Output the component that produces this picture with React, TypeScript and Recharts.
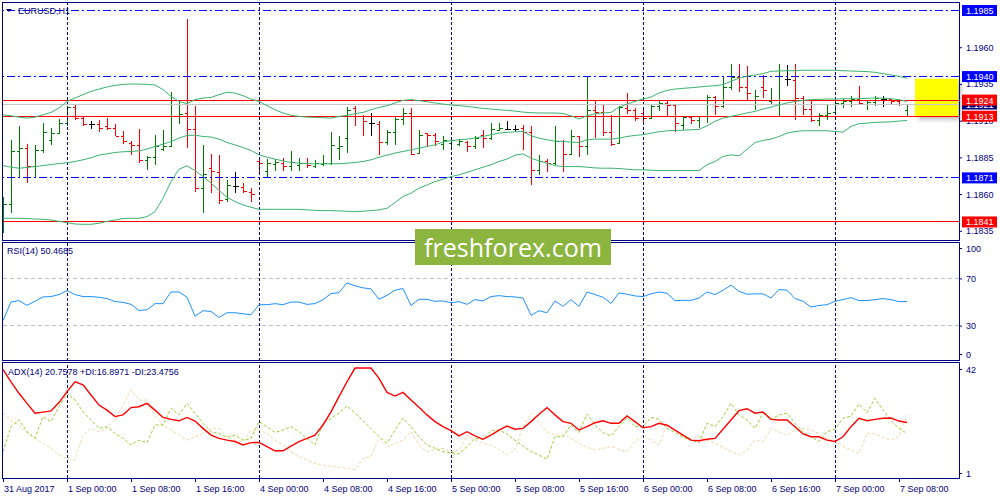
import { ComposedChart, Bar, Line, XAxis, YAxis, ReferenceLine, ReferenceArea } from 'recharts';

// EURUSD H1, 31 Aug 16:00 .. 7 Sep 09:00 (bar index 0..113)
const OPEN = [
  1.18424, 1.18533, 1.1889, 1.18917, 1.18794, 1.18897, 1.1897, 1.19015, 1.19083, 1.19193,
  1.19117, 1.19079, 1.19079, 1.19065, 1.19049, 1.18997, 1.18947, 1.18931, 1.18833, 1.18851,
  1.18906, 1.18924, 1.19133, 1.19152, 1.19042, 1.1864, 1.18776, 1.18753, 1.18565, 1.18656,
  1.18647, 1.18617, 1.18826, 1.1876, 1.18806, 1.1881, 1.18788, 1.18799, 1.1881, 1.18794,
  1.18806, 1.1881, 1.18913, 1.18981, 1.19186, 1.19129, 1.19083, 1.19079, 1.18954, 1.1902,
  1.19111, 1.19152, 1.18879, 1.19015, 1.19004, 1.18942, 1.18947, 1.18942, 1.18952, 1.18924,
  1.19004, 1.18981, 1.19038, 1.19042, 1.19042, 1.19049, 1.1902, 1.18765, 1.18822, 1.1881,
  1.18958, 1.18874, 1.18992, 1.18929, 1.1917, 1.19156, 1.1902, 1.18947, 1.19186, 1.1917,
  1.19152, 1.19117, 1.19202, 1.1922, 1.19209, 1.19072, 1.19124, 1.19106, 1.19129, 1.19261,
  1.19202, 1.19329, 1.19397, 1.19329, 1.19243, 1.19329, 1.19231, 1.19243, 1.19384, 1.19379,
  1.19254, 1.19179, 1.19106, 1.1914, 1.19156, 1.1922, 1.19231, 1.19247, 1.19215, 1.19224,
  1.19247, 1.19247, 1.19231, 1.19174,
];
const HIGH = [
  1.18583, 1.18965, 1.19065, 1.18942, 1.18936, 1.19083, 1.19049, 1.19113, 1.19202, 1.19215,
  1.19129, 1.19095, 1.19102, 1.19117, 1.19079, 1.19027, 1.18958, 1.19042, 1.18856, 1.19004,
  1.19038, 1.19293, 1.19227, 1.19789, 1.19197, 1.18936, 1.18874, 1.18867, 1.18697, 1.18747,
  1.18678, 1.1864, 1.18838, 1.18838, 1.18838, 1.18845, 1.1889, 1.18845, 1.18845, 1.18833,
  1.18867, 1.19024, 1.18992, 1.19193, 1.19202, 1.1914, 1.19152, 1.19095, 1.19038, 1.19129,
  1.19186, 1.19186, 1.19038, 1.19015, 1.19015, 1.18997, 1.1897, 1.18974, 1.18958, 1.18997,
  1.19033, 1.19083, 1.19083, 1.19095, 1.19072, 1.19072, 1.19065, 1.18867, 1.18838, 1.19061,
  1.18965, 1.19038, 1.18997, 1.19397, 1.19238, 1.19215, 1.1914, 1.19202, 1.19288, 1.19186,
  1.19174, 1.19209, 1.19231, 1.19231, 1.19215, 1.19129, 1.19129, 1.19133, 1.19277, 1.19265,
  1.19402, 1.19488, 1.19488, 1.1947, 1.19311, 1.19413, 1.19322, 1.19488, 1.19481, 1.19488,
  1.1927, 1.19231, 1.19152, 1.19209, 1.19231, 1.19247, 1.1927, 1.19338, 1.19231, 1.19265,
  1.19265, 1.19247, 1.19243, 1.19215,
];
const LOW = [
  1.18337, 1.18469, 1.18708, 1.18678, 1.18708, 1.18879, 1.18931, 1.19008, 1.19061, 1.19106,
  1.19061, 1.19042, 1.1902, 1.19033, 1.18992, 1.18942, 1.18863, 1.1881, 1.18765, 1.18799,
  1.18895, 1.1892, 1.19079, 1.18917, 1.18617, 1.18469, 1.1861, 1.18531, 1.18549, 1.1861,
  1.1861, 1.18549, 1.18747, 1.18719, 1.1876, 1.1876, 1.1876, 1.1876, 1.18776, 1.18776,
  1.18792, 1.18799, 1.18829, 1.18879, 1.19061, 1.18992, 1.18997, 1.18867, 1.18936, 1.18931,
  1.19072, 1.18867, 1.18874, 1.1892, 1.18924, 1.18901, 1.18913, 1.18929, 1.18883, 1.18908,
  1.18913, 1.1897, 1.19027, 1.19038, 1.1902, 1.18897, 1.18663, 1.18731, 1.18747, 1.18799,
  1.18747, 1.18867, 1.18851, 1.18867, 1.18981, 1.18992, 1.18929, 1.18942, 1.19147, 1.19095,
  1.19079, 1.19111, 1.19163, 1.19133, 1.1902, 1.19038, 1.19079, 1.19049, 1.19083, 1.1914,
  1.19186, 1.19311, 1.19293, 1.19231, 1.19174, 1.19254, 1.19215, 1.19124, 1.19334, 1.19102,
  1.1914, 1.19088, 1.19061, 1.19106, 1.19152, 1.19186, 1.19193, 1.19215, 1.1917, 1.19197,
  1.19193, 1.19209, 1.19202, 1.19124,
];
const CLOSE = [
  1.18533, 1.1889, 1.18917, 1.18794, 1.18897, 1.1902, 1.19015, 1.19083, 1.19193, 1.19117,
  1.19079, 1.19079, 1.19049, 1.19049, 1.18997, 1.18958, 1.18931, 1.18833, 1.18851, 1.18929,
  1.18924, 1.19133, 1.19145, 1.19042, 1.1864, 1.18735, 1.1876, 1.1856, 1.18663, 1.18656,
  1.18624, 1.18599, 1.1881, 1.1881, 1.18815, 1.18788, 1.18815, 1.1881, 1.18799, 1.1881,
  1.1881, 1.18936, 1.18929, 1.19174, 1.19133, 1.19095, 1.19083, 1.18954, 1.1902, 1.19111,
  1.19152, 1.18874, 1.19004, 1.19004, 1.18958, 1.18965, 1.18965, 1.18958, 1.18924, 1.18981,
  1.18981, 1.19042, 1.19049, 1.19042, 1.19042, 1.1902, 1.18765, 1.18822, 1.1881, 1.18958,
  1.18874, 1.18992, 1.18929, 1.1917, 1.19156, 1.1902, 1.18942, 1.19193, 1.1917, 1.19117,
  1.19117, 1.19202, 1.1922, 1.19209, 1.19083, 1.19124, 1.19106, 1.19129, 1.19261, 1.19202,
  1.19329, 1.19397, 1.19329, 1.19288, 1.19265, 1.19306, 1.19243, 1.19406, 1.19384, 1.19254,
  1.19179, 1.19106, 1.1914, 1.19152, 1.1922, 1.19231, 1.19247, 1.1922, 1.19224, 1.19254,
  1.19247, 1.19231, 1.19215, 1.19215,
];

// Bollinger bands
const BB_UPPER = [
  1.1914, 1.19133, 1.19124, 1.19117, 1.19124, 1.1914, 1.19156, 1.19186, 1.19231, 1.19254,
  1.19277, 1.19299, 1.19315, 1.19329, 1.1934, 1.19347, 1.19349, 1.19349, 1.19347, 1.19343,
  1.19311, 1.19265, 1.19231, 1.19215, 1.19243, 1.19254, 1.19258, 1.19277, 1.19293, 1.19288,
  1.1927, 1.19247, 1.19231, 1.19202, 1.19174, 1.19152, 1.19136, 1.19129, 1.19124, 1.19122,
  1.1912, 1.19117, 1.19129, 1.19136, 1.19147, 1.19156, 1.19174, 1.1919, 1.19202, 1.1922,
  1.19238, 1.19243, 1.19236, 1.19229, 1.1922, 1.19213, 1.19206, 1.19202, 1.19197, 1.1919,
  1.19183, 1.19179, 1.19174, 1.1917, 1.19165, 1.19158, 1.19154, 1.19152, 1.19152, 1.19152,
  1.19149, 1.19133, 1.19111, 1.19133, 1.19147, 1.19152, 1.19156, 1.19192, 1.19213, 1.19231,
  1.19247, 1.19261, 1.19288, 1.19306, 1.19315, 1.1932, 1.19324, 1.19329, 1.19334, 1.19338,
  1.19345, 1.19368, 1.1939, 1.19402, 1.19411, 1.1942, 1.19436, 1.19438, 1.1944, 1.1944,
  1.19443, 1.19443, 1.19443, 1.19443, 1.19443, 1.1944, 1.19438, 1.19436, 1.19434, 1.19429,
  1.1942, 1.19411, 1.19402, 1.19388,
];
const BB_MIDDLE = [
  1.18794, 1.18783, 1.18776, 1.18781, 1.18787, 1.18794, 1.18801, 1.18808, 1.18812, 1.18822,
  1.18833, 1.18847, 1.18865, 1.18874, 1.18883, 1.18888, 1.1889, 1.18894, 1.18906, 1.18924,
  1.1894, 1.18958, 1.18981, 1.18999, 1.19001, 1.18992, 1.18988, 1.18974, 1.18951, 1.18935,
  1.18917, 1.18897, 1.18867, 1.18851, 1.18838, 1.18826, 1.18815, 1.1881, 1.18808, 1.18806,
  1.18806, 1.18806, 1.18806, 1.1881, 1.18815, 1.18822, 1.18833, 1.18851, 1.18865, 1.18879,
  1.1889, 1.18901, 1.18913, 1.18924, 1.18935, 1.18954, 1.18963, 1.1897, 1.18974, 1.18981,
  1.18992, 1.19004, 1.19015, 1.1902, 1.19024, 1.19026, 1.18997, 1.18981, 1.1897, 1.1896,
  1.18958, 1.18954, 1.18951, 1.1897, 1.18974, 1.18974, 1.18974, 1.18981, 1.18992, 1.18999,
  1.19004, 1.19015, 1.19024, 1.19031, 1.19033, 1.19035, 1.19038, 1.1904, 1.19065, 1.19095,
  1.19117, 1.19129, 1.1914, 1.19152, 1.19163, 1.19179, 1.19192, 1.19208, 1.1922, 1.19231,
  1.19238, 1.19243, 1.19245, 1.19247, 1.19247, 1.19249, 1.19249, 1.19249, 1.19252, 1.19254,
  1.19254, 1.19249, 1.19243, 1.19231,
];
const BB_LOWER = [
  1.18435, 1.18435, 1.18435, 1.18433, 1.1843, 1.18428, 1.18423, 1.18414, 1.18405, 1.18396,
  1.18394, 1.18394, 1.18401, 1.18414, 1.18423, 1.18433, 1.18435, 1.18435, 1.18446, 1.1848,
  1.18571, 1.18685, 1.18769, 1.18792, 1.1876, 1.18719, 1.18674, 1.18624, 1.18578, 1.18549,
  1.18526, 1.1851, 1.18496, 1.18496, 1.18496, 1.18496, 1.18496, 1.18496, 1.18492, 1.18489,
  1.18487, 1.18487, 1.18485, 1.18483, 1.1848, 1.18483, 1.18487, 1.18492, 1.18503, 1.18542,
  1.18583, 1.18606, 1.1864, 1.18662, 1.18685, 1.18701, 1.18719, 1.18731, 1.18747, 1.18765,
  1.18783, 1.18799, 1.18822, 1.18838, 1.18865, 1.18874, 1.18844, 1.18826, 1.1881, 1.18794,
  1.18787, 1.18787, 1.18787, 1.18783, 1.18778, 1.18776, 1.18776, 1.18774, 1.18769, 1.18765,
  1.18765, 1.18762, 1.1876, 1.1876, 1.1876, 1.1876, 1.1876, 1.1876, 1.18799, 1.18822,
  1.18856, 1.18867, 1.1886, 1.18906, 1.18951, 1.18965, 1.18974, 1.18992, 1.19015, 1.19026,
  1.19031, 1.19031, 1.19031, 1.19031, 1.19026, 1.19022, 1.1906, 1.19079, 1.19083, 1.19088,
  1.1909, 1.19092, 1.19097, 1.19101,
];

const RSI = [
  34.3, 50.0, 51.2, 47.1, 50.6, 54.3, 54.6, 56.3, 59.7, 56.3,
  54.6, 54.6, 54.0, 52.9, 50.3, 49.7, 48.0, 42.8, 43.4, 48.6,
  48.6, 58.5, 58.5, 54.0, 38.0, 42.6, 42.0, 36.9, 40.9, 40.9,
  40.0, 39.2, 47.7, 47.7, 48.6, 47.7, 50.0, 50.0, 48.0, 48.6,
  52.0, 57.1, 58.0, 66.2, 63.7, 62.0, 61.1, 52.3, 55.7, 60.0,
  61.4, 47.1, 52.3, 52.3, 50.6, 50.9, 49.4, 50.3, 48.0, 52.0,
  50.9, 54.6, 55.4, 54.6, 54.3, 53.4, 38.7, 42.6, 40.9, 50.9,
  46.3, 52.0, 46.3, 58.5, 56.3, 54.0, 48.8, 57.7, 56.6, 55.1,
  54.6, 56.9, 58.5, 57.4, 51.2, 51.4, 51.4, 53.4, 58.5, 56.3,
  60.0, 64.3, 59.1, 56.6, 56.9, 56.9, 53.4, 60.6, 60.0, 52.9,
  50.6, 45.7, 47.1, 47.7, 50.6, 52.0, 53.7, 51.2, 51.2, 52.0,
  52.9, 52.0, 50.3, 50.5,
];

const ADX = [
  39.7, 35.3, 31.2, 27.6, 24.1, 24.5, 24.9, 27.9, 31.8, 35.3,
  34.2, 30.6, 27.0, 25.2, 22.9, 23.5, 26.1, 26.4, 27.6, 25.2,
  22.6, 21.9, 21.4, 22.6, 21.3, 18.7, 16.3, 15.1, 14.5, 14.0,
  12.8, 13.6, 13.7, 12.2, 10.7, 10.7, 12.4, 14.0, 15.1, 16.3,
  19.9, 24.6, 30.0, 35.3, 40.2, 40.2, 40.2, 36.5, 31.5, 30.2,
  31.5, 28.8, 26.2, 23.5, 21.1, 19.3, 17.9, 16.0, 17.5, 16.0,
  14.8, 16.3, 18.1, 19.5, 18.4, 18.7, 21.1, 23.7, 26.1, 23.5,
  21.1, 20.5, 18.1, 19.3, 20.7, 21.4, 20.5, 20.5, 23.1, 21.1,
  18.9, 19.3, 20.5, 19.8, 18.1, 16.3, 14.5, 14.3, 14.8, 15.1,
  18.4, 21.7, 25.0, 25.7, 24.1, 24.5, 21.9, 21.7, 21.7, 19.3,
  16.7, 15.7, 15.7, 14.5, 14.0, 15.7, 19.3, 22.3, 21.4, 21.9,
  22.3, 22.4, 21.3, 20.8,
];
const PLUS_DI = [
  10.4, 19.3, 21.7, 17.5, 15.2, 22.9, 21.1, 26.4, 31.2, 28.8,
  24.6, 21.7, 18.7, 19.3, 16.9, 15.2, 12.8, 14.5, 13.6, 19.9,
  19.9, 25.8, 23.5, 27.6, 24.1, 20.5, 17.5, 16.9, 15.5, 16.3,
  14.5, 15.1, 21.1, 19.3, 17.2, 18.1, 19.3, 17.5, 15.1, 12.8,
  20.5, 22.3, 24.1, 26.7, 24.1, 21.4, 18.7, 15.7, 13.4, 18.1,
  22.3, 19.3, 15.7, 12.8, 11.6, 10.4, 10.0, 9.6, 12.2, 15.1,
  14.8, 17.9, 18.1, 16.7, 14.5, 12.4, 10.4, 9.2, 7.7, 15.7,
  15.7, 19.9, 17.2, 23.8, 19.9, 17.2, 16.0, 19.3, 22.3, 19.3,
  19.3, 22.6, 21.9, 18.7, 17.2, 15.5, 14.5, 13.6, 20.5, 19.3,
  22.9, 27.6, 23.5, 21.7, 18.7, 24.1, 21.9, 23.5, 24.1, 20.5,
  17.5, 15.7, 14.0, 17.5, 18.4, 22.3, 23.1, 27.4, 24.3, 29.4,
  25.2, 21.4, 18.7, 16.9,
];
const MINUS_DI = [
  24.1, 21.7, 19.9, 16.9, 15.1, 13.4, 11.6, 9.2, 8.0, 7.4,
  16.3, 18.7, 17.5, 18.7, 21.7, 27.0, 32.4, 28.8, 28.8, 22.9,
  19.9, 18.1, 16.3, 14.5, 15.7, 16.9, 18.7, 18.7, 15.7, 14.5,
  14.0, 18.1, 18.1, 16.9, 14.5, 12.8, 10.4, 8.6, 7.4, 6.2,
  5.6, 5.2, 4.8, 4.5, 3.9, 8.0, 8.6, 15.1, 12.2, 13.4,
  14.5, 17.5, 12.8, 10.4, 11.0, 11.6, 10.4, 11.0, 16.3, 14.5,
  13.4, 12.8, 11.2, 9.2, 11.0, 19.3, 24.1, 20.5, 17.5, 16.3,
  16.3, 15.1, 13.4, 12.0, 11.0, 11.6, 12.2, 11.2, 10.4, 14.0,
  16.3, 14.5, 12.8, 20.2, 18.1, 15.7, 15.1, 16.0, 14.5, 13.4,
  12.0, 10.4, 9.2, 11.0, 14.5, 14.0, 18.7, 17.5, 16.3, 18.1,
  18.7, 18.1, 16.9, 15.1, 14.0, 12.4, 11.0, 9.8, 16.9, 16.7,
  15.5, 14.5, 16.0, 23.5,
];

const TICK_INDEX = [0, 8, 16, 24, 32, 40, 48, 56, 64, 72, 80, 88, 96, 104, 112];
const TICK_LABELS = [
  '31 Aug 2017', '1 Sep 00:00', '1 Sep 08:00', '1 Sep 16:00', '4 Sep 00:00', '4 Sep 08:00',
  '4 Sep 16:00', '5 Sep 00:00', '5 Sep 08:00', '5 Sep 16:00', '6 Sep 00:00', '6 Sep 08:00',
  '6 Sep 16:00', '7 Sep 00:00', '7 Sep 08:00',
];
const DAY_STARTS = [8, 32, 56, 80, 104];

const PRICE_TICKS = [1.1835, 1.186, 1.1885, 1.191, 1.1935, 1.196];
const BID = 1.19213;
const BLUE_LEVELS = [1.1985, 1.194, 1.1871];
const RED_LEVELS = [1.1924, 1.1913, 1.1841];
const ZONE_LOW = 1.19127;
const ZONE_HIGH = 1.19386;
const ZONE_FROM = 114;
const ZONE_TO = 119.4;

const RSI_TICKS = [0, 30, 70, 100];
const ADX_TICKS = [1, 42];

const rows = OPEN.map((open, i) => ({
  i,
  open,
  high: HIGH[i],
  low: LOW[i],
  close: CLOSE[i],
  range: [LOW[i], HIGH[i]],
  bbUpper: BB_UPPER[i],
  bbMiddle: BB_MIDDLE[i],
  bbLower: BB_LOWER[i],
  rsi: RSI[i],
  adx: ADX[i],
  plusDi: PLUS_DI[i],
  minusDi: MINUS_DI[i],
}));

const NAVY = '#000080';
const FONT = '"Liberation Sans", Arial, sans-serif';
const X_DOMAIN: [number, number] = [0, 119.5];

function OhlcBar(props: any) {
  const { x, y, width, height, payload } = props;
  if (x == null || !payload) return null;
  const top = Math.min(y, y + height);
  const h = Math.abs(height);
  const span = payload.high - payload.low;
  const toY = (v: number) => (span > 0 ? top + ((payload.high - v) / span) * h : top);
  const cx = Math.round(x + width / 2) + 0.5;
  const color =
    payload.close > payload.open ? '#007a00' : payload.close < payload.open ? '#ff0000' : '#000000';
  const oy = Math.round(toY(payload.open)) + 0.5;
  const cy = Math.round(toY(payload.close)) + 0.5;
  return (
    <g stroke={color} strokeWidth={1} shapeRendering="crispEdges">
      <line x1={cx} x2={cx} y1={top} y2={top + h} />
      <line x1={cx - 3} x2={cx} y1={oy} y2={oy} />
      <line x1={cx} x2={cx + 3} y1={cy} y2={cy} />
    </g>
  );
}

function PriceTick(props: any) {
  const { x, y, payload } = props;
  const v = payload.value;
  const label = v.toFixed(4);
  const isBlue = BLUE_LEVELS.includes(v);
  const isRed = RED_LEVELS.includes(v);
  if (isBlue || isRed || v === BID) {
    const bg = v === BID ? NAVY : isBlue ? '#0000ff' : '#ff0000';
    return (
      <g>
        <rect x={x + 3} y={y - 5.5} width={35} height={11} fill={bg} />
        <text x={x + 7} y={y + 3.5} fill="#ffffff" fontSize={9} fontFamily={FONT}>
          {label}
        </text>
      </g>
    );
  }
  return (
    <g>
      <line x1={x} x2={x + 3} y1={y + 0.5} y2={y + 0.5} stroke={NAVY} />
      <text x={x + 7} y={y + 3.5} fill={NAVY} fontSize={9} fontFamily={FONT}>
        {label}
      </text>
    </g>
  );
}

function makeLevelTick(shift: (v: number) => number) {
  return function LevelTick(props: any) {
    const { x, y, payload } = props;
    const yy = y + shift(payload.value);
    return (
      <g>
        <line x1={x} x2={x + 3} y1={yy + 0.5} y2={yy + 0.5} stroke={NAVY} />
        <text x={x + 7} y={yy + 3.5} fill={NAVY} fontSize={9} fontFamily={FONT}>
          {payload.value}
        </text>
      </g>
    );
  };
}

const RsiTick = makeLevelTick((v) => (v === 100 ? 5 : v === 0 ? -7 : 0));
const AdxTick = makeLevelTick((v) => (v === 42 ? 6 : v === 1 ? -5 : 0));

function TimeTick(props: any) {
  const { x, y, payload } = props;
  const idx = TICK_INDEX.indexOf(payload.value);
  const px = Math.round(x) + 0.5;
  return (
    <g>
      <line x1={px} x2={px} y1={y} y2={y + 4} stroke={NAVY} />
      <text x={x + 1} y={y + 13.5} fill={NAVY} fontSize={9} fontFamily={FONT} textAnchor="start">
        {TICK_LABELS[idx]}
      </text>
    </g>
  );
}

function ZoneShape(props: any) {
  const { x, y, width, height } = props;
  return (
    <g>
      <rect x={x + 3} y={y + 3} width={width} height={height} fill="#000" opacity={0.25} style={{ filter: 'blur(2px)' }} />
      <rect x={x} y={y} width={width} height={height} fill="#ffff00" />
    </g>
  );
}

const daySeparators = DAY_STARTS.map((d) => (
  <ReferenceLine key={'d' + d} x={d} stroke={NAVY} strokeDasharray="3 2" shapeRendering="crispEdges" />
));

export default function App() {
  return (
    <div
      style={{
        position: 'absolute',
        left: 0,
        top: 0,
        width: 1000,
        height: 500,
        background: '#ffffff',
        overflow: 'hidden',
      }}
    >
      <div style={{ position: 'absolute', left: 0, top: 0 }}>
        <ComposedChart width={1000} height={241} data={rows} margin={{ top: 2, right: 0, bottom: 1, left: 3 }}>
          <XAxis dataKey="i" type="number" domain={X_DOMAIN} hide allowDataOverflow />
          <YAxis
            orientation="right"
            width={41}
            domain={[1.18287, 1.19908]}
            allowDataOverflow
            ticks={[...PRICE_TICKS, BID, ...BLUE_LEVELS, ...RED_LEVELS]}
            interval={0}
            tick={<PriceTick />}
            tickLine={false}
            axisLine={false}
            tickSize={0}
            tickMargin={0}
          />
          {daySeparators}
          <ReferenceLine y={BID} stroke="#c8c8c8" shapeRendering="crispEdges" />
          {BLUE_LEVELS.map((v) => (
            <ReferenceLine key={'b' + v} y={v} stroke="#0000ff" strokeDasharray="8 3 2 3" shapeRendering="crispEdges" />
          ))}
          {RED_LEVELS.map((v) => (
            <ReferenceLine key={'r' + v} y={v} stroke="#ff0000" shapeRendering="crispEdges" />
          ))}
          <Line dataKey="bbUpper" stroke="#3cb371" strokeWidth={1} dot={false} isAnimationActive={false} />
          <Line dataKey="bbMiddle" stroke="#3cb371" strokeWidth={1} dot={false} isAnimationActive={false} />
          <Line dataKey="bbLower" stroke="#3cb371" strokeWidth={1} dot={false} isAnimationActive={false} />
          <Bar dataKey="range" barSize={4} shape={<OhlcBar />} isAnimationActive={false} />
          <ReferenceArea
            x1={ZONE_FROM}
            x2={ZONE_TO}
            y1={ZONE_LOW}
            y2={ZONE_HIGH}
            shape={<ZoneShape />}
          />
        </ComposedChart>
      </div>

      <div style={{ position: 'absolute', left: 0, top: 242 }}>
        <ComposedChart width={1000} height={119} data={rows} margin={{ top: 1, right: 0, bottom: 0, left: 3 }}>
          <XAxis dataKey="i" type="number" domain={X_DOMAIN} hide allowDataOverflow />
          <YAxis
            orientation="right"
            width={41}
            domain={[0, 100]}
            ticks={RSI_TICKS}
            interval={0}
            tick={<RsiTick />}
            tickLine={false}
            axisLine={false}
            tickSize={0}
            tickMargin={0}
          />
          {daySeparators}
          <ReferenceLine y={70} stroke="#c0c0c0" strokeDasharray="4 3" shapeRendering="crispEdges" />
          <ReferenceLine y={30} stroke="#c0c0c0" strokeDasharray="4 3" shapeRendering="crispEdges" />
          <Line dataKey="rsi" stroke="#1e90ff" strokeWidth={1} dot={false} isAnimationActive={false} />
        </ComposedChart>
      </div>

      <div style={{ position: 'absolute', left: 0, top: 362 }}>
        <ComposedChart width={1000} height={138} data={rows} margin={{ top: 1, right: 0, bottom: 0, left: 3 }}>
          <XAxis
            dataKey="i"
            type="number"
            domain={X_DOMAIN}
            allowDataOverflow
            ticks={TICK_INDEX}
            interval={0}
            tick={<TimeTick />}
            tickLine={false}
            axisLine={false}
            tickSize={0}
            tickMargin={0}
            height={22}
          />
          <YAxis
            orientation="right"
            width={41}
            domain={[1, 42]}
            allowDataOverflow
            ticks={ADX_TICKS}
            interval={0}
            tick={<AdxTick />}
            tickLine={false}
            axisLine={false}
            tickSize={0}
            tickMargin={0}
          />
          {daySeparators}
          <Line dataKey="minusDi" stroke="#f3d6a6" strokeWidth={1} strokeDasharray="3 2" dot={false} isAnimationActive={false} />
          <Line dataKey="plusDi" stroke="#9acd32" strokeWidth={1} strokeDasharray="3 2" dot={false} isAnimationActive={false} />
          <Line dataKey="adx" stroke="#ff0000" strokeWidth={1.4} dot={false} isAnimationActive={false} />
        </ComposedChart>
      </div>

      <svg
        width={1000}
        height={500}
        style={{ position: 'absolute', left: 0, top: 0, pointerEvents: 'none' }}
        fontFamily={FONT}
      >
        <g fill="none" stroke={NAVY} strokeWidth={1} shapeRendering="crispEdges">
          <rect x={2.5} y={2.5} width={957} height={238} />
          <rect x={2.5} y={242.5} width={957} height={118} />
          <rect x={2.5} y={362.5} width={957} height={116} />
        </g>
        <path d="M6 9 L12 9 L9 12 Z" fill={NAVY} />
        <text x={18} y={14} fontSize={9} fill={NAVY}>
          EURUSD,H1
        </text>
        <text x={7} y={254} fontSize={9} fill={NAVY}>
          RSI(14) 50.4685
        </text>
        <text x={8} y={375} fontSize={9} fill={NAVY}>
          ADX(14) 20.7578 +DI:16.8971 -DI:23.4756
        </text>
        <rect x={415} y={229} width={196} height={36} fill="#8cb540" />
        <text
          x={513}
          y={257}
          fontSize={26}
          fill="#ffffff"
          textAnchor="middle"
          fontFamily='"Open Sans", "Noto Sans", sans-serif'
          textLength={178}
          lengthAdjust="spacingAndGlyphs"
        >
          freshforex.com
        </text>
      </svg>
    </div>
  );
}
